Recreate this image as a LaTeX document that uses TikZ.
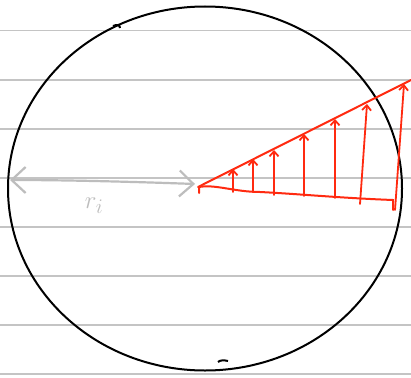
\documentclass[tikz,border=0pt]{standalone}
\usetikzlibrary{arrows.meta,shapes.geometric}
\definecolor{ruled}{HTML}{C4C4C4}
\definecolor{penred}{HTML}{FF2A10}
\definecolor{pengray}{HTML}{BDBDBD}
\begin{document}
\begin{tikzpicture}[x=1pt,y=-1pt,
  ruleline/.style={ruled,line width=1.6pt},
  outline/.style={black,line width=2pt},
  redline/.style={penred,line width=2pt,line cap=round},
  redarrow/.style={penred,line width=1.8pt,line cap=round,-{Straight Barb[length=5pt,width=9pt]}},
  grayarrow/.style={pengray,line width=2.2pt,{Straight Barb[length=14pt,width=26pt]}-{Straight Barb[length=14pt,width=26pt]}},
  label/.style={pengray,font=\fontsize{30}{30}\selectfont}]
\useasboundingbox (0,0) rectangle (411,377);
\fill[white] (0,0) rectangle (411,377);
% ruled paper lines
\foreach \yy in {30.5,80,129,178,227,276,325,374}
  \draw[ruleline] (0,\yy) -- (411,\yy);
% circle
\node[outline,draw,ellipse,minimum width=394pt,minimum height=364pt,inner sep=0pt] (disc) at (205,188.5) {};
\draw[outline] (113,26) .. controls (117,24) and (120,25) .. (120,28);
\draw[outline] (218,362) .. controls (220,360) and (224,360) .. (228,361);
% gray radius arrow
\coordinate (rl) at (10,180);
\coordinate (rr) at (195,184);
\draw[grayarrow] (rl) .. controls (70,180) and (140,182) .. (rr);
\node[label] (ri) at (94,206) {$r_i$};
% red profile
\coordinate (apex) at (198,187);
\coordinate (tipR) at (411,80);
\coordinate (botR) at (393,200);
\draw[redline] (apex) -- (tipR);
\draw[redline] (199,193) -- (199,187) .. controls (215,184) and (235,192) .. (260,192)
  .. controls (300,194) and (340,198) .. (botR) -- (393,210);
\foreach \xx/\yb/\yt in {233/192/169, 253/192/159, 274/195/150, 304/196/134, 335/198/119}
  \draw[redarrow] (\xx,\yb) -- (\xx,\yt);
\draw[redarrow] (360,204) -- (367,104);
\draw[redarrow] (395,210) -- (404,84);
\end{tikzpicture}
\end{document}
